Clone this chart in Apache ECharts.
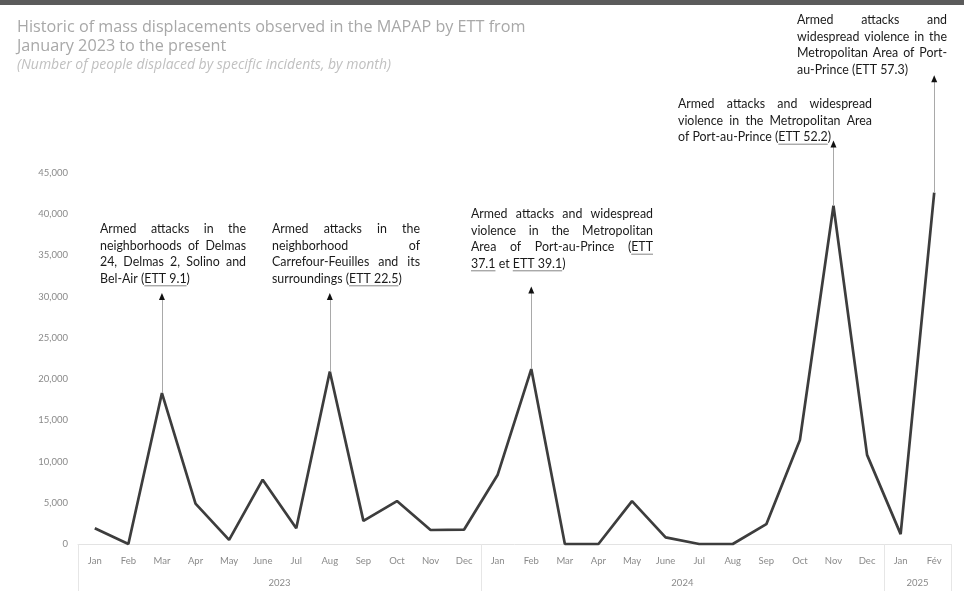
<!DOCTYPE html>
<html>
<head>
<meta charset="utf-8">
<script src="https://cdn.jsdelivr.net/npm/echarts@6/dist/echarts.min.js"></script>
<style>
  html, body { margin: 0; padding: 0; background: #fff; }
  #chart { width: 964px; height: 594px; }
</style>
</head>
<body>
<div id="chart"></div>
<script>
// ---- data ----
const months = ['Jan','Feb','Mar','Apr','May','June','Jul','Aug','Sep','Oct','Nov','Dec',
                'Jan','Feb','Mar','Apr','May','June','Jul','Aug','Sep','Oct','Nov','Dec',
                'Jan','Fév'];
const displaced = [1900, 0, 18300, 4900, 500, 7800, 1900, 20900, 2800, 5200, 1700, 1750,
                   8400, 21200, 0, 0, 5200, 800, 0, 0, 2400, 12600, 41000, 10800,
                   1200, 42600];
const years = ['2023', '2024', '2025'];
const yearMonthCounts = [12, 12, 2];
const yTickMax = 45000;

// annotation texts ([...] = underlined reference)
const noteMonthIndex = [2, 7, 13, 22, 25];
const noteArrowTop = [30000, 30000, 30800, 48500, 56400];
const noteLines = [
  ['Armed attacks in the', 'neighborhoods of Delmas', '24, Delmas 2, Solino and', 'Bel-Air ([ETT 9.1])'],
  ['Armed attacks in the', 'neighborhood of', 'Carrefour-Feuilles and its', 'surroundings ([ETT 22.5])'],
  ['Armed attacks and widespread', 'violence in the Metropolitan', 'Area of Port-au-Prince ([ETT]', '[37.1] et [ETT 39.1])'],
  ['Armed attacks and widespread', 'violence in the Metropolitan Area', 'of Port-au-Prince ([ETT 52.2])'],
  ['Armed attacks and', 'widespread violence in the', 'Metropolitan Area of Port-', 'au-Prince (ETT 57.3)']
];
// layout of annotation boxes: left, width, first line centre y
const noteBoxes = [
  [100, 146, 229], [272, 148, 229], [471, 182, 214], [678, 194, 104], [797, 150, 20]
];

// ---- build ----
const FONT_FAMILY = 'Lato, "Noto Sans", sans-serif';
const NOTE_SIZE = 12.4;
const LINE_H = 16.6;
const noteFont = NOTE_SIZE + 'px ' + FONT_FAMILY;
const mctx = document.createElement('canvas').getContext('2d');
mctx.font = noteFont;
const mw = s => mctx.measureText(s).width;

function tokenize(line) {
  const toks = [];
  let cur = '', depth = 0;
  for (const ch of line) {
    if (ch === '[') depth++;
    if (ch === ']') depth--;
    if (ch === ' ' && depth === 0) { if (cur) toks.push(cur); cur = ''; }
    else cur += ch;
  }
  if (cur) toks.push(cur);
  return toks;
}

const graphics = [];
graphics.push({ type: 'rect', left: 0, top: 0, shape: { width: 964, height: 5 }, style: { fill: '#5b5b5b' } });

noteLines.forEach((lines, ni) => {
  const [bx, bw, by] = noteBoxes[ni];
  lines.forEach((line, li) => {
    const toks = tokenize(line);
    const plain = toks.map(t => t.replace(/[\[\]]/g, ''));
    const widths = plain.map(mw);
    const total = widths.reduce((a, b) => a + b, 0);
    const last = li === lines.length - 1;
    let gap = mw(' ');
    if (!last && toks.length > 1) gap = Math.max(gap * 0.6, (bw - total) / (toks.length - 1));
    let x = bx;
    const y = by + li * LINE_H;
    toks.forEach((tok, ti) => {
      graphics.push({
        type: 'text', x: x, y: y, silent: true,
        style: { text: plain[ti], font: noteFont, fill: '#1a1a1a', align: 'left', verticalAlign: 'middle' }
      });
      const re = /\[([^\]]*)\]/g;
      let m;
      while ((m = re.exec(tok)) !== null) {
        const before = tok.slice(0, m.index).replace(/[\[\]]/g, '');
        const ux = x + mw(before);
        const uw = mw(m[1]);
        graphics.push({
          type: 'line', silent: true,
          shape: { x1: ux, y1: y + 7, x2: ux + uw, y2: y + 7 },
          style: { stroke: '#666', lineWidth: 0.8 }
        });
      }
      x += widths[ti] + gap;
    });
  });
});

// year axis positions derived from month counts
const yearStarts = [];
let acc = 0;
yearMonthCounts.forEach(c => { yearStarts.push(acc); acc += c; });
const yearBounds = yearStarts.concat([acc]);
const yearCenters = yearStarts.map((s, i) => s + yearMonthCounts[i] / 2);

const markLineData = noteMonthIndex.map((idx, i) => [
  { coord: [idx, displaced[idx]] },
  { coord: [idx, noteArrowTop[i]] }
]);
const markPointData = noteMonthIndex.map((idx, i) => ({ coord: [idx, noteArrowTop[i]] }));

const chart = echarts.init(document.getElementById('chart'));
chart.setOption({
  animation: false,
  backgroundColor: '#ffffff',
  title: {
    left: 12, top: 13,
    text: 'Historic of mass displacements observed in the MAPAP by ETT from\nJanuary 2023 to the present',
    subtext: '(Number of people displaced by specific incidents, by month)',
    itemGap: 2,
    textStyle: { fontFamily: '"Open Sans", Lato, sans-serif', fontSize: 16.2, fontWeight: 'normal', color: '#a8a8a8', lineHeight: 19 },
    subtextStyle: { fontFamily: '"Open Sans", Lato, sans-serif', fontSize: 14, fontStyle: 'italic', color: '#c0c0c0', lineHeight: 15 }
  },
  grid: { left: 78, right: 13, top: 49, bottom: 50, containLabel: false },
  xAxis: [
    {
      type: 'category', data: months, boundaryGap: true, position: 'bottom',
      axisLine: { lineStyle: { color: '#e3e3e3', width: 1 } },
      axisTick: { show: false },
      axisLabel: { interval: 0, margin: 12, fontFamily: FONT_FAMILY, fontSize: 9.5, color: '#8a8a8a' },
      splitLine: { show: false }
    },
    {
      type: 'value', min: 0, max: acc, position: 'bottom',
      axisLine: { show: false },
      axisTick: { show: true, customValues: yearBounds, length: 47, lineStyle: { color: '#e6e6e6' } },
      axisLabel: {
        customValues: yearCenters, margin: 34, fontFamily: FONT_FAMILY, fontSize: 9.5, color: '#8a8a8a',
        formatter: v => { const i = yearCenters.indexOf(v); return i >= 0 ? years[i] : ''; }
      },
      splitLine: { show: false }
    }
  ],
  yAxis: {
    type: 'value', min: 0, max: 60000, interval: 5000,
    axisLine: { show: false }, axisTick: { show: false }, splitLine: { show: false },
    axisLabel: {
      margin: 10, fontFamily: FONT_FAMILY, fontSize: 9.5, color: '#8a8a8a',
      formatter: v => v > yTickMax ? '' : v.toLocaleString('en-US')
    }
  },
  series: [{
    type: 'line', xAxisIndex: 0, data: displaced, symbol: 'none', clip: false,
    lineStyle: { color: '#3d3d3d', width: 2.7 },
    itemStyle: { color: '#3d3d3d' },
    markLine: {
      silent: true, symbol: ['none', 'none'], label: { show: false },
      lineStyle: { color: '#a9a9a9', width: 1, type: 'solid' },
      emphasis: { disabled: true },
      data: markLineData
    },
    markPoint: {
      silent: true, symbol: 'triangle', symbolSize: [6, 7],
      itemStyle: { color: '#111' }, label: { show: false },
      data: markPointData
    },
    z: 3
  }],
  graphic: graphics
});
</script>
</body>
</html>
